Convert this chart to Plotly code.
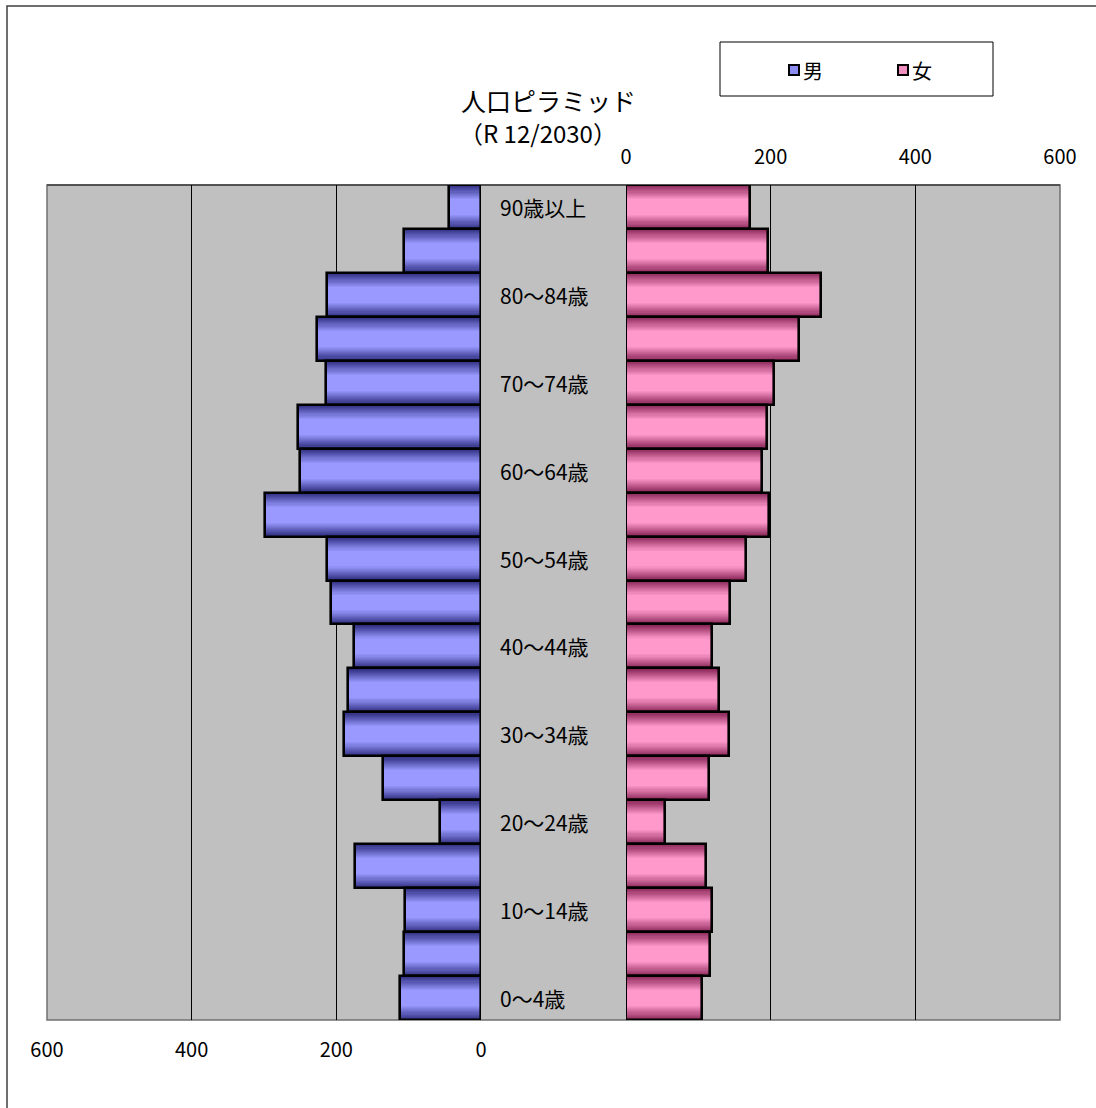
import plotly.graph_objects as go

# Age groups, bottom (youngest) to top (oldest)
ages = ["0～4歳", "5～9歳", "10～14歳", "15～19歳", "20～24歳", "25～29歳",
        "30～34歳", "35～39歳", "40～44歳", "45～49歳", "50～54歳", "55～59歳",
        "60～64歳", "65～69歳", "70～74歳", "75～79歳", "80～84歳", "85～89歳",
        "90歳以上"]
male = [112, 106, 105, 174, 57, 135, 189, 184, 176, 207, 213, 299,
        250, 253, 214, 227, 213, 106, 44]
female = [105, 116, 119, 110, 54, 115, 143, 129, 119, 144, 166, 198,
          188, 195, 205, 239, 270, 196, 171]
ticks = [0, 200, 400, 600]

W, H = 1096, 1108
FONT = "Noto Sans CJK JP"

# pixel geometry of the plotting area
PX_L0, PX_L1 = 47, 481     # male panel (600 .. 0)
PX_R0, PX_R1 = 626, 1060   # female panel (0 .. 600)
PY_T, PY_B = 185, 1020


def px(x):
    return x / W


def py(y):
    return 1 - y / H


def lerp(c1, c2, t):
    return "rgb(%d,%d,%d)" % tuple(round(a + (b - a) * t) for a, b in zip(c1, c2))


male_dark, male_light = (48, 48, 130), (153, 153, 255)
fem_dark, fem_light = (140, 40, 90), (255, 153, 204)

fig = go.Figure()

# stepped layers give each bar a dark-edge / light-centre shading
N = 14
for i in range(N):
    w = 1.0 - i * (0.64 / (N - 1))
    t = i / (N - 1)
    fig.add_trace(go.Bar(y=ages, x=male, orientation="h", xaxis="x", yaxis="y",
                         width=w, marker=dict(color=lerp(male_dark, male_light, t), line_width=0),
                         showlegend=False, hoverinfo="skip"))
    fig.add_trace(go.Bar(y=ages, x=female, orientation="h", xaxis="x2", yaxis="y",
                         width=w, marker=dict(color=lerp(fem_dark, fem_light, t), line_width=0),
                         showlegend=False, hoverinfo="skip"))

# black outlines on top
fig.add_trace(go.Bar(y=ages, x=male, orientation="h", xaxis="x", yaxis="y", width=1.0,
                     name="男", marker=dict(color="rgba(0,0,0,0)", line=dict(color="black", width=2.6)),
                     showlegend=False, hovertemplate="%{y}: %{x}<extra>男</extra>"))
fig.add_trace(go.Bar(y=ages, x=female, orientation="h", xaxis="x2", yaxis="y", width=1.0,
                     name="女", marker=dict(color="rgba(0,0,0,0)", line=dict(color="black", width=2.6)),
                     showlegend=False, hovertemplate="%{y}: %{x}<extra>女</extra>"))

axis_common = dict(showgrid=True, gridcolor="black", gridwidth=1, zeroline=False,
                   showline=False, tickvals=ticks, ticktext=[str(v) for v in ticks],
                   tickfont=dict(family=FONT, size=20, color="black"),
                   ticks="outside", ticklen=12, tickcolor="rgba(0,0,0,0)",
                   automargin=False, fixedrange=True)

fig.update_layout(
    width=W, height=H, autosize=False,
    margin=dict(l=0, r=0, t=0, b=0, pad=0, autoexpand=False),
    paper_bgcolor="white", plot_bgcolor="rgba(0,0,0,0)",
    barmode="overlay", bargap=0,
    xaxis=dict(domain=[px(PX_L0), px(PX_L1)], range=[600, 0], side="bottom",
               anchor="y", **axis_common),
    xaxis2=dict(domain=[px(PX_R0), px(PX_R1)], range=[0, 600], side="top",
                anchor="y", **axis_common),
    yaxis=dict(domain=[py(PY_B), py(PY_T)], range=[-0.5, len(ages) - 0.5],
               showticklabels=False, showgrid=False, zeroline=False,
               automargin=False, fixedrange=True),
    showlegend=False,
)

shapes = [
    # outer frame
    dict(type="rect", xref="paper", yref="paper", x0=px(7), y0=py(6), x1=px(1110), y1=py(1120),
         line=dict(color="#404040", width=1.5), fillcolor="rgba(0,0,0,0)", layer="below"),
    # grey plot background spanning both panels and the label column
    dict(type="rect", xref="paper", yref="paper", x0=px(PX_L0), y0=py(PY_B), x1=px(PX_R1), y1=py(PY_T),
         line=dict(color="#707070", width=1.5), fillcolor="#C0C0C0", layer="below"),
    dict(type="line", xref="paper", yref="paper", x0=px(PX_L0), y0=py(PY_T), x1=px(PX_R1), y1=py(PY_T),
         line=dict(color="#404040", width=1.5), layer="below"),
    # legend box
    dict(type="rect", xref="paper", yref="paper", x0=px(720), y0=py(96), x1=px(993), y1=py(42),
         line=dict(color="black", width=1), fillcolor="white", layer="above"),
    dict(type="rect", xref="paper", yref="paper", x0=px(789), y0=py(75), x1=px(799), y1=py(65),
         line=dict(color="black", width=2), fillcolor="#8C8CF0", layer="above"),
    dict(type="rect", xref="paper", yref="paper", x0=px(898), y0=py(75), x1=px(908), y1=py(65),
         line=dict(color="black", width=2), fillcolor="#F090C0", layer="above"),
]

annotations = [
    dict(text="人口ピラミッド", x=px(548), y=py(100), xref="paper", yref="paper",
         xanchor="center", yanchor="middle",
         showarrow=False, font=dict(family=FONT, size=25, color="black")),
    dict(text="（R 12/2030）", x=px(538), y=py(132), xref="paper", yref="paper",
         xanchor="center", yanchor="middle",
         showarrow=False, font=dict(family=FONT, size=24, color="black")),
    dict(text="男", x=px(801), y=py(70), xref="paper", yref="paper",
         xanchor="left", yanchor="middle",
         showarrow=False, font=dict(family=FONT, size=20, color="black")),
    dict(text="女", x=px(910), y=py(70), xref="paper", yref="paper",
         xanchor="left", yanchor="middle",
         showarrow=False, font=dict(family=FONT, size=20, color="black")),
]
# age labels in the central column, every other group
for i, a in enumerate(ages):
    if i % 2 == 0:
        annotations.append(dict(text=a, x=px(498), y=a, xref="paper", yref="y",
                                xanchor="left", yanchor="middle", showarrow=False,
                                font=dict(family=FONT, size=21, color="black")))

fig.update_layout(shapes=shapes, annotations=annotations)
fig.write_html("out.html")
